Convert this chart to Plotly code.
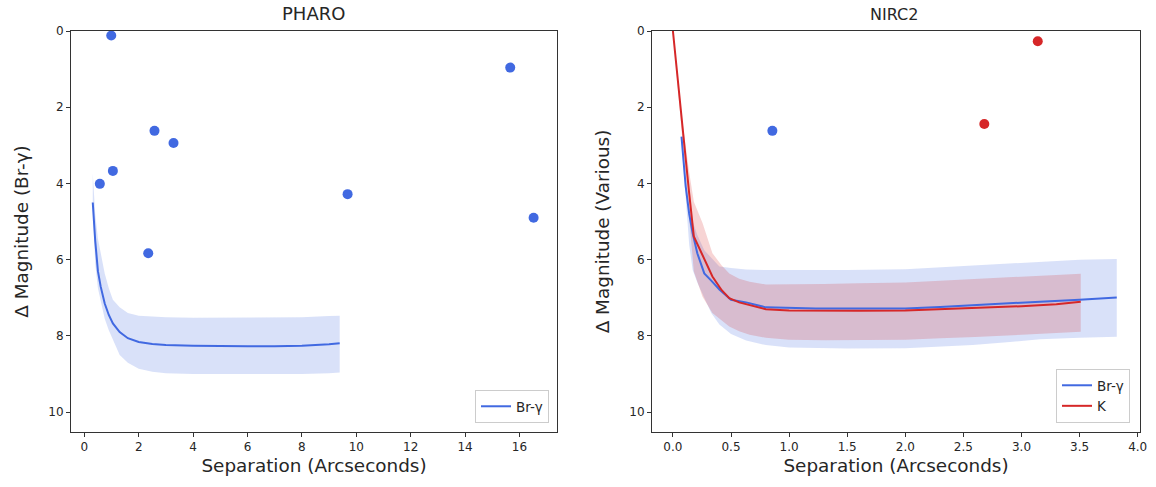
import plotly.graph_objects as go

# ---------------- data ----------------
# PHARO detected companions
pharo_sep = [0.99, 15.66, 2.58, 3.28, 1.05, 0.57, 9.68, 16.52, 2.35]
pharo_dmag = [0.12, 0.96, 2.62, 2.94, 3.67, 4.01, 4.28, 4.90, 5.83]

# PHARO Br-gamma contrast curve
pharo_x = [0.31, 0.4, 0.5, 0.6, 0.75, 0.9, 1.05, 1.3, 1.6, 2.0, 2.5, 3.0, 4.0, 5.0, 6.0, 7.0, 8.0, 9.0, 9.39]
pharo_mid = [4.5, 5.5, 6.3, 6.7, 7.15, 7.45, 7.67, 7.9, 8.06, 8.16, 8.21, 8.24, 8.26, 8.27, 8.27, 8.27, 8.26, 8.22, 8.19]
pharo_up = [3.73, 4.8, 5.45, 5.85, 6.36, 6.75, 7.05, 7.25, 7.4, 7.47, 7.5, 7.51, 7.52, 7.52, 7.52, 7.52, 7.51, 7.48, 7.47]
pharo_lo = [4.6, 6.1, 6.75, 7.1, 7.55, 7.85, 8.1, 8.5, 8.7, 8.86, 8.94, 8.98, 9.0, 9.0, 9.0, 9.0, 9.0, 8.98, 8.96]

# NIRC2 detected companions
nirc2_br_sep = [0.856]
nirc2_br_dmag = [2.62]
nirc2_k_sep = [2.68, 3.14]
nirc2_k_dmag = [2.44, 0.27]

# NIRC2 Br-gamma contrast curve
nbr_x = [0.074, 0.11, 0.14, 0.17, 0.21, 0.27, 0.33, 0.4, 0.5, 0.63, 0.8, 1.0, 1.23, 1.5, 2.0, 2.3, 2.58, 2.9, 3.16, 3.5, 3.82]
nbr_mid = [2.77, 4.08, 4.8, 5.31, 5.83, 6.36, 6.55, 6.78, 7.05, 7.12, 7.25, 7.27, 7.28, 7.28, 7.28, 7.24, 7.19, 7.15, 7.1, 7.05, 6.99]
nbr_up = [2.75, 3.9, 4.6, 5.0, 5.35, 5.75, 5.95, 6.18, 6.22, 6.26, 6.27, 6.27, 6.27, 6.27, 6.25, 6.2, 6.16, 6.1, 6.05, 6.0, 5.98]
nbr_lo = [2.9, 4.5, 5.6, 6.27, 6.6, 7.0, 7.4, 7.7, 7.95, 8.12, 8.24, 8.3, 8.32, 8.33, 8.32, 8.28, 8.24, 8.16, 8.09, 8.05, 8.02]

# NIRC2 K contrast curve
nk_x = [0.0, 0.083, 0.14, 0.18, 0.255, 0.34, 0.42, 0.485, 0.57, 0.66, 0.8, 1.0, 1.3, 1.6, 2.0, 2.3, 2.6, 3.0, 3.3, 3.51]
nk_mid = [0.0, 2.6, 4.26, 5.39, 5.9, 6.44, 6.8, 7.01, 7.12, 7.19, 7.3, 7.33, 7.34, 7.34, 7.33, 7.3, 7.27, 7.22, 7.17, 7.1]
nk_up = [0.0, 2.4, 3.7, 4.48, 5.04, 5.83, 6.15, 6.36, 6.5, 6.58, 6.65, 6.65, 6.64, 6.62, 6.6, 6.55, 6.5, 6.45, 6.4, 6.37]
nk_lo = [0.0, 2.8, 4.9, 6.31, 6.97, 7.4, 7.6, 7.75, 7.88, 7.97, 8.05, 8.1, 8.11, 8.11, 8.1, 8.06, 8.03, 7.97, 7.93, 7.89]

left_xticks = [0, 2, 4, 6, 8, 10, 12, 14, 16]
right_xticks = [0.0, 0.5, 1.0, 1.5, 2.0, 2.5, 3.0, 3.5, 4.0]
yticks = [0, 2, 4, 6, 8, 10]

# ---------------- style ----------------
BLUE = "#4169E1"
BLUE_FILL = "rgba(65,105,225,0.2)"
RED = "#d62728"
RED_FILL = "rgba(214,39,40,0.2)"
FONT = "DejaVu Sans"
TXT = "#262626"
LABEL = 18.4

W, H = 1156, 487
def xd(a, b):
    return [a / W, b / W]
yd = [(H - 432) / H, (H - 31) / H]

fig = go.Figure()

def band(x, up, lo, color, xa, ya):
    fig.add_trace(go.Scatter(x=x, y=up, mode="lines", line=dict(width=0, color=color),
                             showlegend=False, hoverinfo="skip", xaxis=xa, yaxis=ya))
    fig.add_trace(go.Scatter(x=x, y=lo, mode="lines", line=dict(width=0, color=color),
                             fill="tonexty", fillcolor=color, showlegend=False,
                             hoverinfo="skip", xaxis=xa, yaxis=ya))

# Left panel
band(pharo_x, pharo_up, pharo_lo, BLUE_FILL, "x", "y")
fig.add_trace(go.Scatter(x=pharo_x, y=pharo_mid, mode="lines", line=dict(color=BLUE, width=2),
                         name="Br-γ", legend="legend", xaxis="x", yaxis="y"))
fig.add_trace(go.Scatter(x=pharo_sep, y=pharo_dmag, mode="markers",
                         marker=dict(color=BLUE, size=10), showlegend=False, xaxis="x", yaxis="y"))

# Right panel
band(nbr_x, nbr_up, nbr_lo, BLUE_FILL, "x2", "y2")
band(nk_x, nk_up, nk_lo, RED_FILL, "x2", "y2")
fig.add_trace(go.Scatter(x=nbr_x, y=nbr_mid, mode="lines", line=dict(color=BLUE, width=2),
                         name="Br-γ", legend="legend2", xaxis="x2", yaxis="y2"))
fig.add_trace(go.Scatter(x=nk_x, y=nk_mid, mode="lines", line=dict(color=RED, width=2),
                         name="K", legend="legend2", xaxis="x2", yaxis="y2"))
fig.add_trace(go.Scatter(x=nirc2_br_sep, y=nirc2_br_dmag, mode="markers",
                         marker=dict(color=BLUE, size=10), showlegend=False, xaxis="x2", yaxis="y2"))
fig.add_trace(go.Scatter(x=nirc2_k_sep, y=nirc2_k_dmag, mode="markers",
                         marker=dict(color=RED, size=10), showlegend=False, xaxis="x2", yaxis="y2"))

axis_common = dict(showline=True, linecolor="#333333", linewidth=1, mirror=True,
                   ticks="outside", ticklen=4, tickcolor="#333333", showgrid=False,
                   zeroline=False, automargin=False,
                   tickfont=dict(family=FONT, size=12, color=TXT))
title_font = dict(size=LABEL, family=FONT, color=TXT)

fig.update_layout(
    width=W, height=H,
    margin=dict(l=0, r=0, t=0, b=0, autoexpand=False),
    paper_bgcolor="white", plot_bgcolor="white",
    font=dict(family=FONT, color=TXT),
    xaxis=dict(domain=xd(71, 557), anchor="y", range=[-0.49, 17.38], tickvals=left_xticks,
               title=dict(text="Separation (Arcseconds)", font=title_font, standoff=5),
               **axis_common),
    yaxis=dict(domain=yd, anchor="x", range=[10.52, 0], tickvals=yticks,
               title=dict(text="Δ Magnitude (Br-γ)", font=title_font, standoff=14),
               **axis_common),
    xaxis2=dict(domain=xd(652, 1140), anchor="y2", range=[-0.18, 4.02], tickvals=right_xticks,
                tickformat=".1f",
                title=dict(text="Separation (Arcseconds)", font=title_font, standoff=5),
                **axis_common),
    yaxis2=dict(domain=yd, anchor="x2", range=[10.52, 0], tickvals=yticks,
                title=dict(text="Δ Magnitude (Various)", font=title_font, standoff=14),
                **axis_common),
    legend=dict(x=549 / W, y=(H - 423) / H, xanchor="right", yanchor="bottom",
                bgcolor="rgba(255,255,255,0.8)", bordercolor="#cccccc", borderwidth=1,
                font=dict(family=FONT, size=13.5, color=TXT)),
    legend2=dict(x=1130 / W, y=(H - 423) / H, xanchor="right", yanchor="bottom",
                 bgcolor="rgba(255,255,255,0.8)", bordercolor="#cccccc", borderwidth=1,
                 font=dict(family=FONT, size=13.5, color=TXT)),
    annotations=[
        dict(text="PHARO", x=313 / W, y=(H - 13.5) / H, xref="paper", yref="paper",
             showarrow=False, font=dict(family=FONT, size=18, color=TXT), xanchor="center", yanchor="middle"),
        dict(text="NIRC2", x=894 / W, y=(H - 14.5) / H, xref="paper", yref="paper",
             showarrow=False, font=dict(family=FONT, size=16, color=TXT), xanchor="center", yanchor="middle"),
    ],
)

fig.write_html(
    "out.html",
    config={"displayModeBar": False},
    post_script="document.body.style.margin='0';document.body.style.overflow='hidden';",
)
